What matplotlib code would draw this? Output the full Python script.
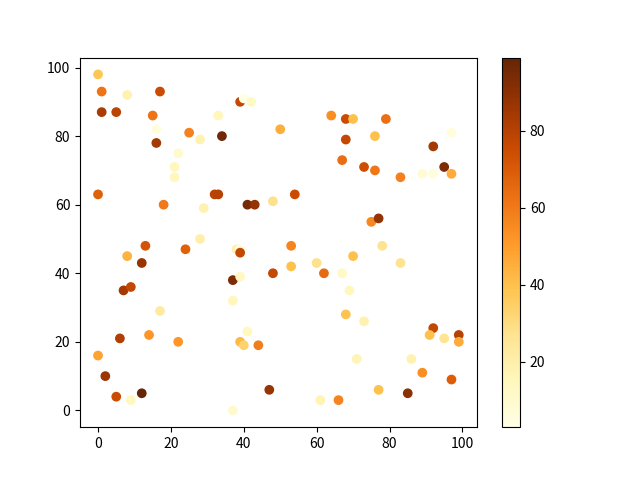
import matplotlib
matplotlib.use("Agg")
import matplotlib.pyplot as plt

plt.rcParams['font.family'] = ['Noto Sans CJK SC', 'DejaVu Sans']

# координаты точек
x = [0, 1, 8, 17, 1, 5, 15, 16, 16, 25,
     28, 22, 21, 21, 33, 34, 39, 40, 42, 50,
     0, 18, 29, 32, 33, 41, 43, 48, 13, 28,
     24, 64, 68, 70, 79, 68, 76, 97, 92, 67,
     73, 76, 83, 89, 92, 95, 97, 54, 75, 77,
     53, 78, 8, 12, 38, 39, 39, 48, 37, 39,
     37, 7, 9, 17, 6, 14, 22, 41, 39, 40,
     44, 0, 2, 5, 9, 12, 47, 37, 53, 60,
     62, 70, 67, 69, 83, 68, 73, 92, 91, 95,
     99, 99, 71, 86, 89, 97, 77, 85, 61, 66]
y = [98, 93, 92, 93, 87, 87, 86, 82, 78, 81,
     79, 75, 71, 68, 86, 80, 90, 91, 90, 82,
     63, 60, 59, 63, 63, 60, 60, 61, 48, 50,
     47, 86, 85, 85, 85, 79, 80, 81, 77, 73,
     71, 70, 68, 69, 69, 71, 69, 63, 55, 56,
     48, 48, 45, 43, 47, 47, 46, 40, 38, 39,
     32, 35, 36, 29, 21, 22, 20, 23, 20, 19,
     19, 16, 10, 4, 3, 5, 6, 0, 42, 43,
     40, 45, 40, 35, 43, 28, 26, 24, 22, 21,
     22, 20, 15, 15, 11, 9, 6, 5, 3, 3]
# значения цвета
c = [38, 62, 18, 75, 83, 79, 62, 6, 84, 58,
     18, 10, 15, 15, 15, 96, 77, 3, 12, 45,
     68, 60, 18, 79, 80, 95, 88, 28, 72, 20,
     68, 54, 75, 40, 63, 77, 40, 6, 84, 64,
     74, 61, 58, 8, 6, 93, 46, 75, 56, 88,
     57, 27, 44, 87, 18, 6, 77, 77, 93, 13,
     15, 84, 77, 23, 81, 52, 52, 14, 42, 33,
     59, 48, 86, 75, 14, 99, 87, 10, 40, 28,
     65, 40, 12, 15, 27, 39, 18, 77, 40, 26,
     80, 46, 17, 18, 54, 69, 40, 90, 17, 57]

fig = plt.figure(figsize=(6.4, 4.8), dpi=100)
sc = plt.scatter(x, y, c=c, cmap='YlOrBr')
plt.colorbar(sc)
plt.savefig('out.png')
